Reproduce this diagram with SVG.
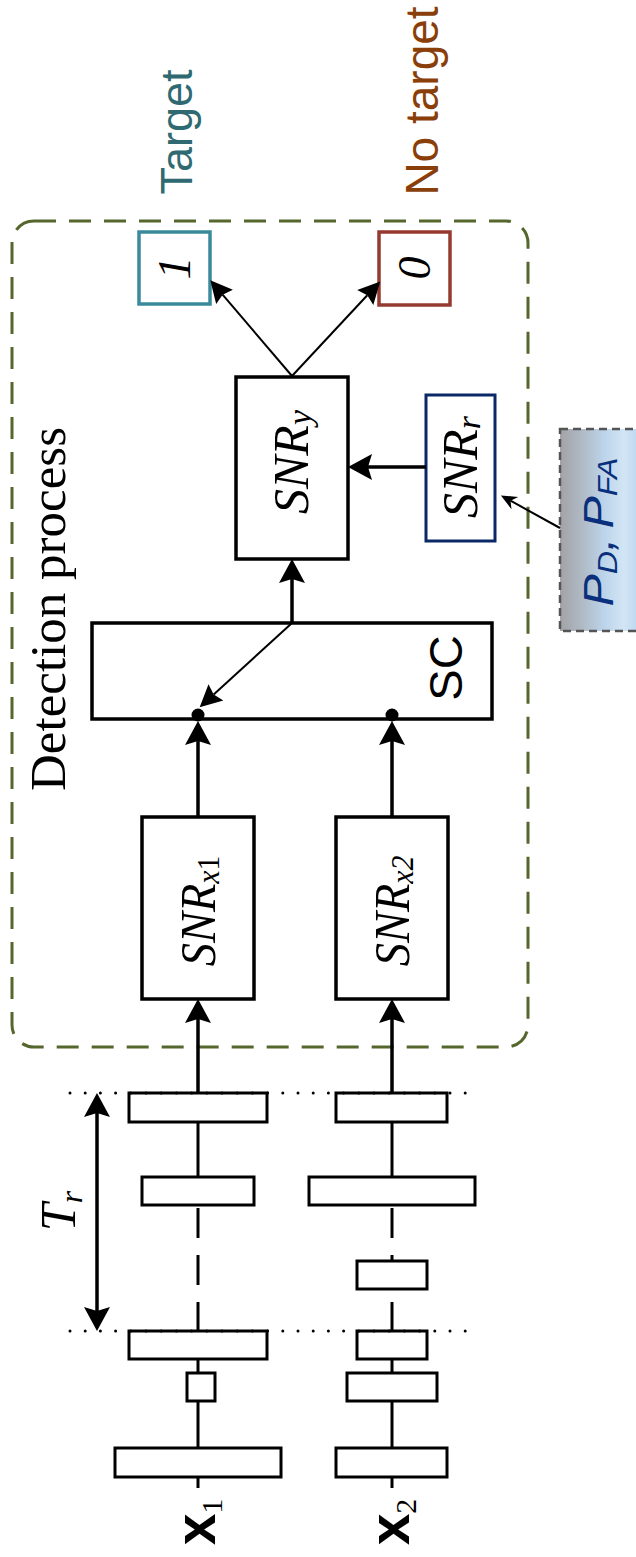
<svg xmlns="http://www.w3.org/2000/svg" width="636" height="1557" viewBox="0 0 636 1557">
<style>
.box{fill:#fff;stroke:#000;stroke-width:3.5}
.tl{fill:#fff;stroke:#000;stroke-width:3}
.ln{stroke:#000;stroke-width:3;fill:none}
.thick{stroke:#000;stroke-width:3.5;fill:none}
.thin{stroke:#000;stroke-width:2;fill:none}
.dots{stroke:#000;stroke-width:3;stroke-linecap:round;stroke-dasharray:0 15.2;fill:none}
.serif{font-family:"Liberation Serif","Times New Roman",serif}
.sans{font-family:"Liberation Sans",Arial,sans-serif}
.it{font-style:italic}
</style>
<defs>
<marker id="ah" markerUnits="userSpaceOnUse" viewBox="-2 -15 30 30" markerWidth="30" markerHeight="30" refX="4" refY="0" orient="auto-start-reverse" overflow="visible">
<path d="M24,0 L0,-13 L4,0 L0,13 Z" fill="#000"/>
</marker>
<marker id="ahs" markerUnits="userSpaceOnUse" viewBox="-2 -12 26 24" markerWidth="26" markerHeight="24" refX="3" refY="0" orient="auto" overflow="visible">
<path d="M22,0 L0,-11 L3,0 L0,11 Z" fill="#000"/>
</marker>
<marker id="aht" markerUnits="userSpaceOnUse" viewBox="-2 -9 20 18" markerWidth="20" markerHeight="18" refX="5" refY="0" orient="auto" overflow="visible">
<path d="M16,0 L0,-7 L5,0 L0,7 Z" fill="#000"/>
</marker>
<linearGradient id="pg" x1="0" y1="0" x2="1" y2="0">
<stop offset="0" stop-color="#a2a3a5"/>
<stop offset="0.3" stop-color="#b0bcc8"/>
<stop offset="0.55" stop-color="#bcd4ea"/>
<stop offset="0.8" stop-color="#d2e5f5"/>
<stop offset="1" stop-color="#bad5ee"/>
</linearGradient>
</defs>

<g id="detection-frame">
<rect x="12" y="221" width="516" height="826" rx="22" ry="22" fill="none" stroke="#56672e" stroke-width="3" stroke-dasharray="22 13"/>
<text class="serif" font-size="51" fill="#000" text-anchor="middle" transform="translate(65,609) rotate(-90)">Detection process</text>
</g>

<g id="label-target">
<text class="sans" font-size="45" fill="#2f6a72" text-anchor="middle" transform="translate(192,132) rotate(-90)">Target</text>
</g>
<g id="label-notarget">
<text class="sans" font-size="46" fill="#8a3f0b" text-anchor="middle" transform="translate(438,101) rotate(-90)">No target</text>
</g>

<g id="node-1">
<rect x="139" y="232" width="71" height="72" fill="#fff" stroke="#3a8a9c" stroke-width="3.5"/>
<text class="serif it" font-size="46" text-anchor="middle" transform="translate(190,268) rotate(-90)">1</text>
</g>
<g id="node-0">
<rect x="379" y="232" width="71" height="73" fill="#fff" stroke="#943a30" stroke-width="3.5"/>
<text class="serif it" font-size="46" text-anchor="middle" transform="translate(430,268) rotate(-90)">0</text>
</g>

<g id="node-snry">
<rect class="box" x="236" y="377" width="112" height="182"/>
<text class="serif it" font-size="50" text-anchor="middle" transform="translate(308,462) rotate(-90)">SNR<tspan font-size="34" dy="3">y</tspan></text>
</g>

<g id="node-snrr">
<rect x="426" y="395" width="69" height="146" fill="#fff" stroke="#0b2866" stroke-width="3"/>
<text class="serif it" font-size="50" text-anchor="middle" transform="translate(477,467) rotate(-90)">SNR<tspan font-size="34" dy="3">r</tspan></text>
</g>

<g id="node-pd-pfa">
<rect x="560" y="429" width="80" height="202" fill="url(#pg)" stroke="#555" stroke-width="2.5" stroke-dasharray="8 5"/>
<text class="sans it" font-size="42" fill="#0a2f7c" text-anchor="middle" transform="translate(613,532) rotate(-90) scale(1.15,1)">P<tspan font-size="28" dy="4">D</tspan><tspan dy="-4">,</tspan><tspan dx="8">P</tspan><tspan font-size="28" dy="4">FA</tspan></text>
</g>

<g id="node-sc">
<rect class="box" x="92" y="623" width="400" height="96"/>
<text class="sans" font-size="47" text-anchor="middle" transform="translate(462,668) rotate(-90)">SC</text>
<circle cx="198" cy="715" r="6.5" fill="#000"/>
<circle cx="392" cy="715" r="6.5" fill="#000"/>
</g>

<g id="node-snrx1">
<rect class="box" x="142" y="817" width="112" height="182"/>
<text class="serif it" font-size="50" text-anchor="middle" transform="translate(215,911) rotate(-90) scale(0.93,1)">SNR<tspan font-size="32" dy="4">x<tspan font-style="normal">1</tspan></tspan></text>
</g>
<g id="node-snrx2">
<rect class="box" x="336" y="817" width="112" height="182"/>
<text class="serif it" font-size="50" text-anchor="middle" transform="translate(409,911) rotate(-90) scale(0.93,1)">SNR<tspan font-size="32" dy="4">x2</tspan></text>
</g>

<g id="timeline-x1">
<line class="ln" x1="198" y1="1093" x2="198" y2="1177"/>
<line class="ln" x1="198" y1="1208" x2="198" y2="1238"/>
<line class="ln" x1="198" y1="1255" x2="198" y2="1285"/>
<line class="ln" x1="198" y1="1302" x2="198" y2="1331"/>
<line class="ln" x1="198" y1="1359" x2="198" y2="1488"/>
<rect class="tl" x="129" y="1093" width="138" height="29"/>
<rect class="tl" x="142" y="1177" width="112" height="28"/>
<rect class="tl" x="129" y="1331" width="138" height="28"/>
<rect class="tl" x="187" y="1373" width="28" height="28"/>
<rect class="tl" x="115" y="1448" width="166" height="29"/>
<text class="sans" font-size="57" font-weight="bold" text-anchor="middle" transform="translate(215,1522) rotate(-90)">x<tspan class="serif" font-weight="normal" font-size="30" dy="7">1</tspan></text>
</g>

<g id="timeline-x2">
<line class="ln" x1="392" y1="1093" x2="392" y2="1177"/>
<line class="ln" x1="392" y1="1208" x2="392" y2="1238"/>
<line class="ln" x1="392" y1="1255" x2="392" y2="1261"/>
<line class="ln" x1="392" y1="1302" x2="392" y2="1331"/>
<line class="ln" x1="392" y1="1359" x2="392" y2="1488"/>
<rect class="tl" x="336" y="1093" width="111" height="29"/>
<rect class="tl" x="309" y="1177" width="166" height="28"/>
<rect class="tl" x="357" y="1261" width="70" height="28"/>
<rect class="tl" x="357" y="1331" width="70" height="28"/>
<rect class="tl" x="347" y="1373" width="90" height="28"/>
<rect class="tl" x="336" y="1448" width="111" height="29"/>
<text class="sans" font-size="57" font-weight="bold" text-anchor="middle" transform="translate(409,1522) rotate(-90)">x<tspan class="serif" font-weight="normal" font-size="30" dy="7">2</tspan></text>
</g>

<g id="period-tr">
<line class="dots" x1="70" y1="1093" x2="470" y2="1093"/>
<line class="dots" x1="70" y1="1331" x2="470" y2="1331"/>
<line class="thick" x1="97" y1="1113" x2="97" y2="1311" marker-start="url(#ah)" marker-end="url(#ah)"/>
<text class="serif it" font-size="50" text-anchor="middle" transform="translate(75,1211) rotate(-90)">T<tspan font-size="32" dy="7">r</tspan></text>
</g>

<g id="connectors">
<line class="thick" x1="198" y1="1093" x2="198" y2="1019" marker-end="url(#ah)"/>
<line class="thick" x1="392" y1="1093" x2="392" y2="1019" marker-end="url(#ah)"/>
<line class="thick" x1="198" y1="817" x2="198" y2="741" marker-end="url(#ah)"/>
<line class="thick" x1="392" y1="817" x2="392" y2="741" marker-end="url(#ah)"/>
<line class="thick" x1="292" y1="623" x2="292" y2="579" marker-end="url(#ah)"/>
<line class="thick" x1="426" y1="467" x2="368" y2="467" marker-end="url(#ah)"/>
<line class="thin" x1="292" y1="376" x2="222.6" y2="294.7" marker-end="url(#ahs)"/>
<line class="thin" x1="292" y1="376" x2="367.3" y2="295.3" marker-end="url(#ahs)"/>
<line class="thin" x1="292" y1="623" x2="213.7" y2="694.5" marker-end="url(#ahs)"/>
<line class="thin" x1="560" y1="528" x2="510.5" y2="500.7" marker-end="url(#aht)"/>
</g>
</svg>
